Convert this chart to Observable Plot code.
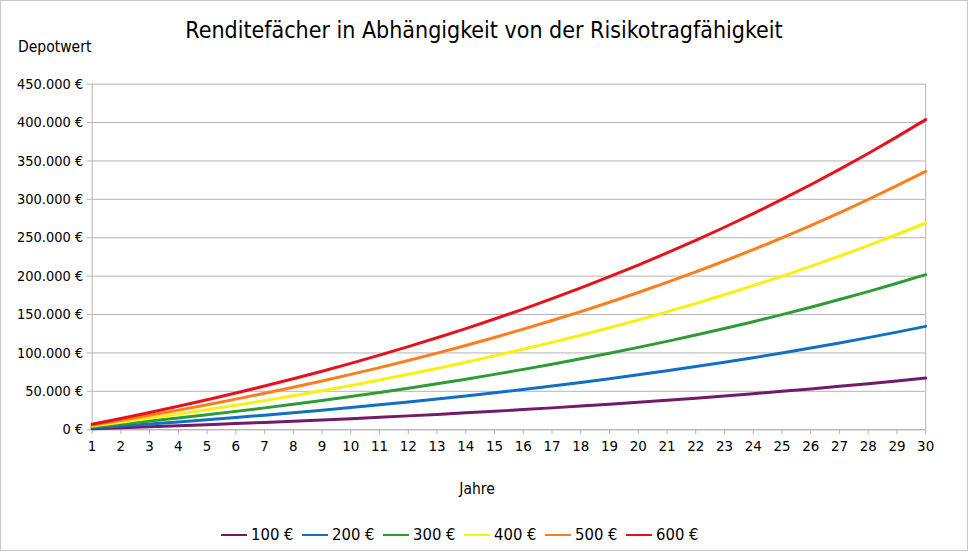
<!DOCTYPE html>
<html>
<head>
<meta charset="utf-8">
<script src="https://cdn.jsdelivr.net/npm/d3@7"></script>
<script src="https://cdn.jsdelivr.net/npm/@observablehq/plot@0.6"></script>
<style>
  html, body { margin: 0; padding: 0; background: #fff; }
  #chart { position: relative; width: 966px; height: 549px; border: 1px solid #c8c8c8; overflow: hidden;
    font-family: "DejaVu Sans Condensed", "DejaVu Sans", sans-serif; font-stretch: condensed; color: #000; }
  #chart svg { position: absolute; left: -1px; top: -1px; overflow: visible; }
  .lbl { position: absolute; white-space: nowrap; }
  #title { left: 0; width: 966px; text-align: center; top: 16px; font-size: 23px; }
  #ylab { left: 17px; top: 37px; font-size: 15.5px; }
  #xlab { left: 0; width: 952px; text-align: center; top: 479px; font-size: 15.5px; }
  .leg { position: absolute; top: 524px; font-size: 16.5px; display: flex; align-items: center; }
  .leg .sw { width: 26px; height: 2px; margin-right: 4px; }
  .xax text { font-size: 15px; }
</style>
</head>
<body>
<div id="chart">
  <div class="lbl" id="title">Renditefächer in Abhängigkeit von der Risikotragfähigkeit</div>
  <div class="lbl" id="ylab">Depotwert</div>
  <div class="lbl" id="xlab">Jahre</div>
</div>
<script>
const years = [1,2,3,4,5,6,7,8,9,10,11,12,13,14,15,16,17,18,19,20,21,22,23,24,25,26,27,28,29,30];
const seriesNames = ["100 €", "200 €", "300 €", "400 €", "500 €", "600 €"];
const seriesColors = ["#731a6b", "#1170c4", "#2e9b35", "#f7f011", "#ff7d1c", "#e5121d"];
const yTicks = [0, 50000, 100000, 150000, 200000, 250000, 300000, 350000, 400000, 450000];

const s100 = [1200, 2450, 3750, 5100, 6500, 7960, 9480, 11060, 12700, 14410, 16180, 18030, 19950, 21950, 24030, 26190, 28440, 30770, 33210, 35730, 38360, 41100, 43940, 46900, 49980, 53170, 56500, 59960, 63560, 67300];
const s200 = [2400, 4900, 7490, 10190, 13000, 15920, 18960, 22110, 25400, 28810, 32370, 36060, 39900, 43900, 48060, 52380, 56870, 61550, 66410, 71470, 76730, 82200, 87880, 93800, 99950, 106350, 113000, 119920, 127120, 134600];
const s300 = [3600, 7340, 11240, 15290, 19500, 23880, 28440, 33170, 38100, 43220, 48550, 54090, 59860, 65850, 72080, 78570, 85310, 92320, 99610, 107200, 115090, 123290, 131820, 140700, 149930, 159520, 169500, 179880, 190680, 201900];
const s400 = [4800, 9790, 14980, 20380, 26000, 31840, 37910, 44230, 50800, 57630, 64730, 72120, 79810, 87800, 96110, 104760, 113750, 123100, 132820, 142930, 153450, 164390, 175770, 187600, 199900, 212700, 226000, 239840, 254240, 269200];
const s500 = [6000, 12240, 18730, 25480, 32500, 39800, 47390, 55290, 63500, 72040, 80920, 90160, 99760, 109750, 120140, 130950, 142190, 153870, 166030, 178670, 191810, 205490, 219710, 234500, 249870, 265860, 282500, 299800, 317800, 336500];
const s600 = [7200, 14690, 22470, 30580, 39000, 47760, 56870, 66340, 76200, 86440, 97100, 108190, 119710, 131700, 144170, 157140, 170620, 184650, 199230, 214400, 230180, 246590, 263650, 281400, 299850, 319030, 339000, 359760, 381360, 403800];

const allSeries = [s100, s200, s300, s400, s500, s600];
const data = [];
allSeries.forEach((arr, i) => arr.forEach((v, j) => data.push({series: seriesNames[i], year: years[j], value: v})));

const fmt = d => d === 0 ? "0 €" : d3.format(",")(d).replace(/,/g, ".") + " €";
const grid = "#b3b3b3";

const plot = Plot.plot({
  width: 970,
  height: 553,
  marginLeft: 92,
  marginRight: 41,
  marginTop: 84,
  marginBottom: 122,
  style: {fontFamily: '"DejaVu Sans Condensed", "DejaVu Sans", sans-serif', fontSize: "14px", background: "transparent", color: "#000", fontStretch: "condensed"},
  x: {domain: [1, 30]},
  y: {domain: [0, 450000]},
  color: {domain: seriesNames, range: seriesColors},
  marks: [
    Plot.gridY(yTicks, {stroke: grid, strokeOpacity: 1}),
    Plot.ruleX([1, 30], {stroke: grid}),
    Plot.ruleY([0], {stroke: grid}),
    Plot.axisY({ticks: yTicks, tickSize: 5, tickPadding: 4, tickFormat: fmt, label: null, stroke: grid, strokeOpacity: 1, fontSize: 14.5}),
    Plot.axisX({ticks: years, tickSize: 5, tickPadding: 6, tickFormat: d => String(d), label: null, stroke: grid, strokeOpacity: 1, fontSize: 15}),
    Plot.line(data, {x: "year", y: "value", stroke: "series", strokeWidth: 3})
  ]
});
document.getElementById("chart").appendChild(plot);

const chart = document.getElementById("chart");
seriesNames.forEach((name, i) => {
  const it = document.createElement("div");
  it.className = "leg";
  it.style.left = (220 + i * 81) + "px";
  const sw = document.createElement("div");
  sw.className = "sw";
  sw.style.background = seriesColors[i];
  const tx = document.createElement("span");
  tx.textContent = name;
  it.appendChild(sw);
  it.appendChild(tx);
  chart.appendChild(it);
});
</script>
</body>
</html>
